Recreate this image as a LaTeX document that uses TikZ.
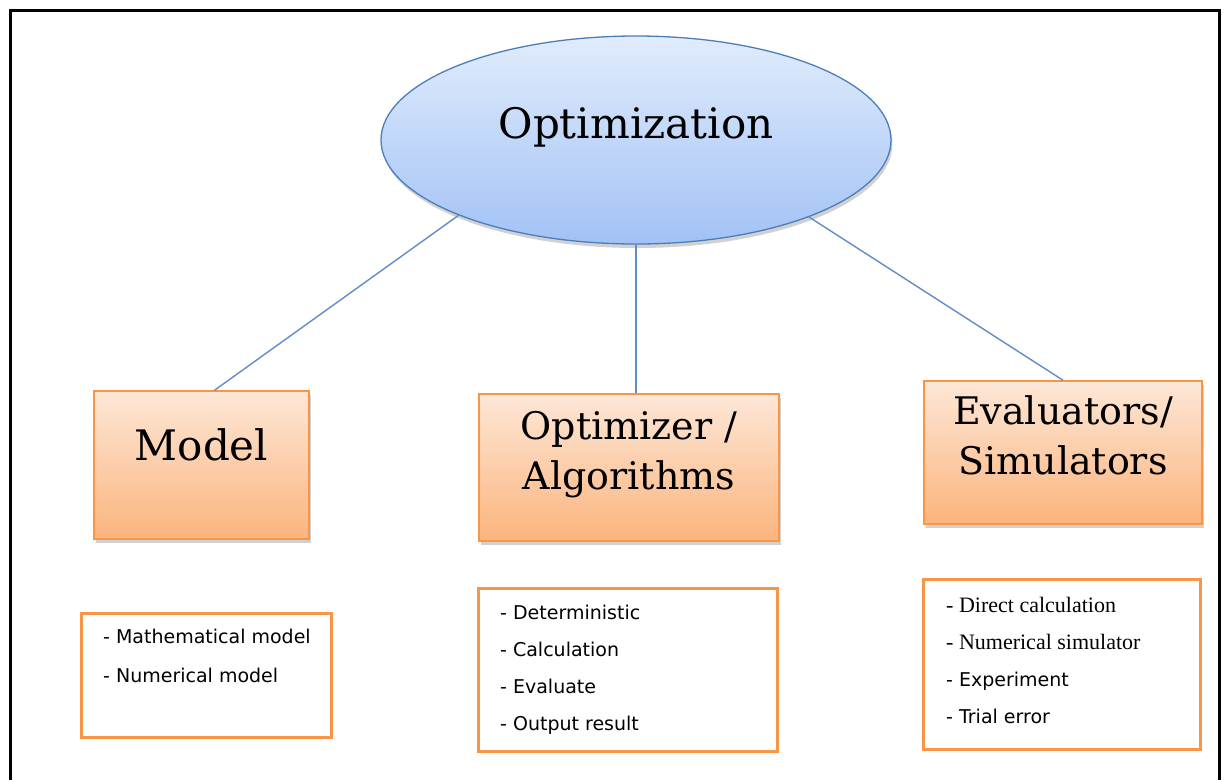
\documentclass[tikz,border=0pt]{standalone}
\usepackage{fontspec}
\setmainfont{DejaVu Serif}
\setsansfont{DejaVu Sans}
\newfontfamily\timesfont{Liberation Serif}
\usetikzlibrary{shapes.geometric,shadows}

\definecolor{blueedge}{HTML}{4A7EBB}
\definecolor{bluetop}{HTML}{E1ECFC}
\definecolor{bluebot}{HTML}{A2C2F5}
\definecolor{orangeedge}{HTML}{F79646}
\definecolor{orangetop}{HTML}{FDE7D7}
\definecolor{orangebot}{HTML}{FBB47D}
\definecolor{linkblue}{HTML}{5F8DC8}

\tikzset{
	boxshadow/.style={drop shadow={shadow xshift=1.5pt, shadow yshift=-4pt, opacity=0.3, fill=black!60}},
	topic/.style={ellipse, draw=blueedge, line width=1.3pt, top color=bluetop, bottom color=bluebot,
		minimum width=510pt, minimum height=208pt, inner sep=0pt, text depth=35pt,
		font=\fontsize{42}{50}\selectfont, boxshadow},
	part/.style={rectangle, draw=orangeedge, line width=1.5pt, top color=orangetop, bottom color=orangebot,
		inner sep=0pt, text depth=34pt, align=center, font=\fontsize{38}{50}\selectfont, boxshadow},
	listbox/.style={rectangle, draw=orangeedge, line width=3pt, fill=white, inner sep=0pt},
	listtext/.style={anchor=north west, inner sep=0pt, align=left, font=\sffamily\fontsize{19}{37}\selectfont},
	link/.style={draw=linkblue, line width=1.4pt}
}

\begin{document}
\begin{tikzpicture}[x=1pt,y=-1pt]
	\useasboundingbox (0,0) rectangle (1227,780);
	%frame
	\draw[line width=3pt] (10.5,780) -- (10.5,10) -- (1219.5,10) -- (1219.5,780);
	
	%main nodes
	\node[topic] (opt) at (636,140) {Optimization};
	\node[part, minimum width=215pt, minimum height=148pt, text depth=40pt,
		font=\fontsize{42}{50}\selectfont] (model) at (201.5,465) {Model};
	\node[part, minimum width=300pt, minimum height=147pt] (alg) at (629,467.5) {Optimizer /\\Algorithms};
	\node[part, minimum width=278pt, minimum height=143pt] (eval) at (1063,452.5) {Evaluators/\\Simulators};
	
	%links
	\draw[link] (opt.203) -- ([xshift=13pt]model.north);
	\draw[link] (opt.south) -- (opt.south |- alg.north);
	\draw[link] (opt.336) -- (eval.north);
	
	%lists
	\node[listbox, minimum width=250pt, minimum height=124pt] (mlist) at (206.5,675.5) {};
	\node[listtext, font=\sffamily\fontsize{19}{39}\selectfont] (mtext) at (103,629)
		{- Mathematical model\\- Numerical model};
	\node[listbox, minimum width=299pt, minimum height=163pt] (olist) at (628,670) {};
	\node[listtext] (otext) at (500,605)
		{- Deterministic\\- Calculation\\- Evaluate\\- Output result};
	\node[listbox, minimum width=277pt, minimum height=170pt] (elist) at (1062,664.5) {};
	\node[listtext] (etext) at (946,597)
		{{\timesfont\fontsize{22}{37}\selectfont - Direct calculation}\\
		 {\timesfont\fontsize{22}{37}\selectfont - Numerical simulator}\\
		 - Experiment\\- Trial error};
\end{tikzpicture}
\end{document}
